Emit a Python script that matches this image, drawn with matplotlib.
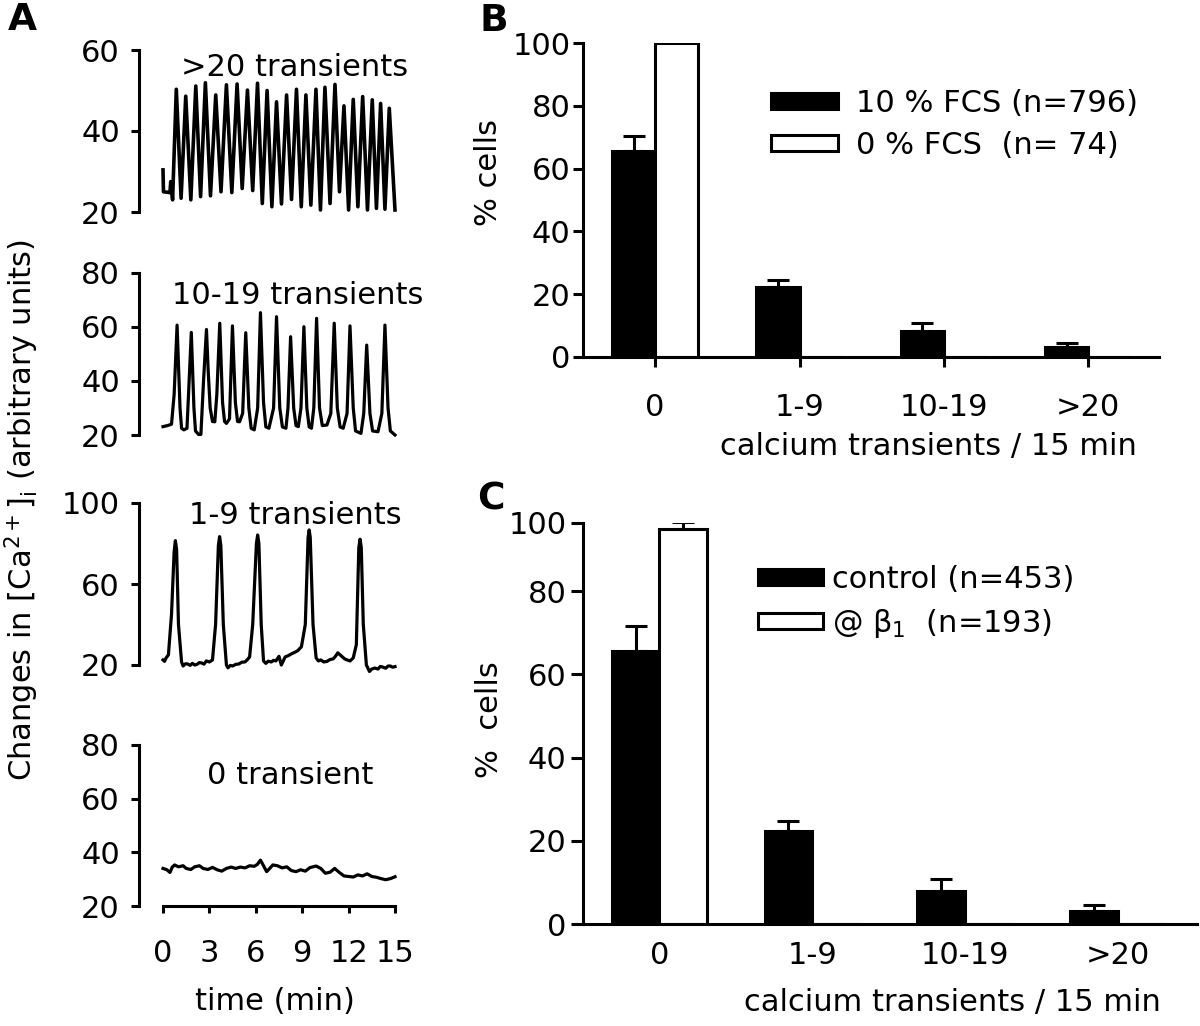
import matplotlib
matplotlib.use("Agg")
import matplotlib.pyplot as plt
import matplotlib.ticker as mticker
from matplotlib.transforms import ScaledTranslation
import numpy as np
from matplotlib.patches import Patch

plt.rcParams['font.family'] = ['DejaVu Sans']
plt.rcParams['mathtext.fontset'] = 'dejavusans'

# ---------------- data ----------------
# Panel A traces: (time in min, [Ca2+]i arbitrary units)
t_gt20 = [0.0, 0.03, 0.45, 0.5, 0.62, 0.86, 1.17, 1.47, 1.80, 2.12, 2.43, 2.74, 3.07, 3.41, 3.75,
          4.10, 4.45, 4.79, 5.12, 5.46, 5.80, 6.11, 6.42, 6.73, 7.04, 7.34, 7.66, 7.99, 8.31,
          8.63, 8.94, 9.24, 9.56, 9.89, 10.18, 10.47, 10.80, 11.12, 11.41, 11.70, 12.00,
          12.30, 12.60, 12.91, 13.22, 13.53, 13.80, 14.07, 14.35, 14.63, 15.0]
v_gt20 = [30.4, 25.0, 24.8, 27.5, 23.0, 50.3, 23.4, 48.6, 23.0, 51.1, 23.8, 51.9, 24.0, 48.9, 25.0,
          51.4, 24.8, 51.6, 25.8, 50.1, 25.3, 51.8, 22.1, 50.0, 21.3, 47.2, 22.0, 48.9, 23.1,
          50.3, 21.3, 48.9, 21.7, 50.3, 20.5, 50.8, 22.1, 51.5, 25.0, 46.2, 20.5,
          47.8, 21.3, 48.5, 20.5, 47.7, 20.9, 46.8, 20.7, 45.6, 20.5]

t_10_19 = [0.0, 0.3, 0.55, 0.72, 0.91, 1.1, 1.2, 1.35, 1.55, 1.65, 1.83, 2.0, 2.1, 2.3, 2.45, 2.62,
           2.81, 2.92, 3.05, 3.2, 3.35, 3.48, 3.67, 3.85, 3.98, 4.1, 4.3, 4.49, 4.68, 4.82, 4.95,
           5.15, 5.35, 5.55, 5.7, 5.9, 6.12, 6.30, 6.5, 6.65, 6.85, 7.15, 7.34, 7.55, 7.72, 7.95,
           8.08, 8.25, 8.45, 8.6, 8.75, 8.92, 9.11, 9.3, 9.45, 9.6, 9.75, 9.93, 10.12, 10.3, 10.6,
           10.85, 11.07, 11.27, 11.45, 11.65, 11.9, 12.09, 12.3, 12.45, 12.8, 12.98, 13.17, 13.38,
           13.55, 13.9, 14.15, 14.35, 14.55, 14.7, 15.0]
v_10_19 = [23.1, 23.5, 24.0, 35.0, 60.7, 30.0, 22.5, 21.9, 22.5, 35.0, 58.0, 30.0, 21.5, 20.2, 20.2, 40.0,
           59.1, 44.0, 30.0, 25.0, 24.9, 35.0, 61.4, 32.0, 25.0, 24.3, 26.0, 60.4, 32.0, 25.0, 24.9,
           28.0, 57.9, 30.0, 22.5, 21.9, 30.0, 65.3, 32.0, 23.0, 22.5, 30.0, 63.8, 30.0, 23.0, 22.5,
           30.0, 56.4, 30.0, 23.5, 23.1, 30.0, 60.1, 30.0, 23.0, 22.5, 30.0, 63.2, 30.0, 23.5, 23.7,
           28.0, 61.4, 30.0, 23.0, 22.5, 28.0, 60.4, 30.0, 21.5, 20.6, 28.0, 53.3, 28.0,
           21.5, 21.2, 28.0, 60.7, 30.0, 21.5, 20.0]

t_1_9 = [0.0, 0.1, 0.2, 0.35, 0.55, 0.72, 0.80, 0.88, 1.0, 1.2, 1.3, 1.45, 1.6, 1.75, 1.9, 2.05, 2.2,
         2.35, 2.5, 2.65, 2.8, 3.0, 3.2, 3.4, 3.58, 3.66, 3.74, 3.9, 4.1, 4.2, 4.35, 4.5, 4.7, 4.9,
         5.1, 5.3, 5.45, 5.6, 5.8, 6.04, 6.12, 6.2, 6.35, 6.5, 6.65, 6.8, 7.0, 7.15, 7.3, 7.5, 7.65,
         7.9, 8.1, 8.3, 8.5, 8.7, 8.95, 9.2, 9.38, 9.45, 9.52, 9.7, 9.9, 10.05, 10.2, 10.4, 10.6,
         10.8, 11.0, 11.15, 11.3, 11.45, 11.6, 11.75, 11.9, 12.1, 12.3, 12.5, 12.66, 12.74, 12.82,
         12.95, 13.15, 13.35, 13.5, 13.7, 13.9, 14.05, 14.2, 14.4, 14.55, 14.7, 14.85, 15.0]
v_1_9 = [22.5, 21.8, 23.5, 25.0, 45.0, 76.0, 81.4, 77.0, 40.0, 21.5, 19.5, 20.6, 20.5, 19.8, 20.8, 20.0,
         20.3, 21.2, 21.0, 20.4, 22.0, 21.5, 22.5, 40.0, 79.0, 83.4, 79.0, 40.0, 20.0, 18.6, 19.8, 19.5,
         20.3, 20.5, 21.4, 21.5, 22.6, 24.0, 40.0, 80.0, 84.2, 80.0, 40.0, 22.0, 20.8, 21.9, 21.5,
         22.3, 22.0, 24.3, 20.0, 24.0, 24.6, 25.5, 26.2, 27.0, 29.0, 40.0, 83.0, 86.7, 83.0, 40.0,
         23.5, 22.0, 22.5, 21.5, 21.8, 22.7, 23.0, 24.3, 26.0, 25.0, 24.0, 23.0, 22.5, 22.0, 23.5,
         30.0, 78.0, 82.1, 78.0, 40.0, 20.0, 16.8, 18.0, 18.5, 18.0, 19.3, 19.0, 18.4, 19.5, 19.5,
         18.9, 19.2]

t_0 = [0.0, 0.25, 0.45, 0.6, 0.75, 1.0, 1.3, 1.5, 1.8, 2.05, 2.35, 2.6, 2.9, 3.2, 3.5, 3.8, 4.1, 4.4,
       4.7, 5.0, 5.3, 5.6, 5.9, 6.1, 6.3, 6.5, 6.7, 6.9, 7.1, 7.4, 7.7, 8.0, 8.3, 8.6, 8.9, 9.2,
       9.5, 9.9, 10.2, 10.5, 10.8, 11.1, 11.4, 11.7, 12.0, 12.3, 12.6, 12.9, 13.2, 13.5, 13.8,
       14.1, 14.4, 14.7, 15.0]
v_0 = [34.0, 33.5, 32.5, 34.5, 35.3, 34.6, 35.0, 34.0, 33.6, 34.6, 35.0, 34.0, 33.6, 34.4, 33.5, 33.0,
       34.0, 34.5, 34.0, 34.5, 34.2, 35.0, 34.8, 35.5, 37.1, 35.0, 32.8, 34.0, 35.3, 35.0, 34.2,
       34.6, 33.2, 32.8, 33.5, 33.0, 34.3, 34.9, 34.0, 32.2, 32.6, 34.0, 32.5, 31.2, 31.0, 30.8,
       31.6, 31.2, 32.0, 31.0, 30.7, 30.2, 29.8, 30.2, 30.9]

trace_titles = [">20 transients", "10-19 transients", "1-9 transients", "0 transient"]
trace_yticks = [[20, 40, 60], [20, 40, 60, 80], [20, 60, 100], [20, 40, 60, 80]]
time_ticks = [0, 3, 6, 9, 12, 15]

# Panels B and C
categories = ["0", "1-9", "10-19", ">20"]
b_fcs10 = [65.5, 22.3, 8.2, 3.2]
b_fcs10_err = [5.0, 2.3, 2.5, 1.3]
b_fcs0 = [100.0, 0.0, 0.0, 0.0]
b_fcs0_err = [0.0, 0.0, 0.0, 0.0]
b_labels = ["10 % FCS (n=796)", "0 % FCS  (n= 74)"]

c_control = [65.7, 22.3, 8.0, 3.2]
c_control_err = [5.9, 2.5, 2.7, 1.4]
c_beta1 = [98.2, 0.0, 0.0, 0.0]
c_beta1_err = [2.2, 0.0, 0.0, 0.0]
c_labels = ["control (n=453)", "@ β$_\\mathregular{1}$  (n=193)"]

pct_ticks = [0, 20, 40, 60, 80, 100]

# ---------------- layout helpers ----------------
W, H = 1200, 1026
FS = 22
LW = 2.2
fig = plt.figure(figsize=(W / 100, H / 100), dpi=100)


def add_ax(x0, x1, ytop, ybot):
    return fig.add_axes([x0 / W, 1 - ybot / H, (x1 - x0) / W, (ybot - ytop) / H])


def ftext(x, y, s, **kw):
    fig.text(x / W, 1 - y / H, s, **kw)


# ---------------- Panel A ----------------
traces = [(t_gt20, v_gt20), (t_10_19, v_10_19), (t_1_9, v_1_9), (t_0, v_0)]
a_rows = [(50, 212), (273, 435), (503, 665), (745, 906)]
title_pos = [(295, 68), (298, 295), (295, 515), (290, 775)]
trace_lw = [2.6, 2.3, 2.3, 2.3]
for i, ((tt, vv), (yt, yb), yt_list) in enumerate(zip(traces, a_rows, trace_yticks)):
    ax = add_ax(163, 395, yt, yb)
    ax.plot(tt, vv, color='black', lw=trace_lw[i], solid_joinstyle='round', clip_on=False)
    ax.set_xlim(0, 15)
    ax.set_ylim(yt_list[0], yt_list[-1])
    ax.set_yticks(yt_list)
    for s in ['top', 'right']:
        ax.spines[s].set_visible(False)
    ax.spines['left'].set_position(('outward', 17))
    ax.spines['left'].set_linewidth(LW)
    ax.tick_params(axis='y', direction='out', length=6, width=LW, labelsize=FS, pad=8)
    if i < 3:
        ax.spines['bottom'].set_visible(False)
        ax.set_xticks([])
    else:
        ax.spines['bottom'].set_linewidth(LW)
        ax.set_xticks(time_ticks)
        ax.tick_params(axis='x', direction='out', length=5, width=LW, labelsize=FS, pad=19)
    ax.patch.set_alpha(0)
    ftext(title_pos[i][0], title_pos[i][1], trace_titles[i], fontsize=FS, ha='center', va='center')

ftext(275, 1001, "time (min)", fontsize=FS, ha='center', va='center')
ftext(22, 510, "Changes in [Ca$^{\\mathregular{2+}}$]$_\\mathregular{i}$ (arbitrary units)", fontsize=FS,
      rotation=90, ha='center', va='center')
ftext(22, 20, "A", fontsize=27, fontweight='bold', ha='center', va='center')


# ---------------- bar panels ----------------
def bar_panel(ax, black, black_err, white, white_err, width, labels, ticklen_x,
              tick_pad_x, leg_xy, handlelength, textpad, label_dx):
    x = np.arange(len(categories))
    ax.bar(x - width / 2, black, width, color='black', edgecolor='black', lw=LW, zorder=2)
    ax.bar(x + width / 2, white, width, color='white', edgecolor='black', lw=LW, zorder=2)
    be = np.array(black_err)
    m = be > 0
    ax.errorbar((x - width / 2)[m], np.array(black)[m], yerr=[np.zeros(m.sum()), be[m]],
                fmt='none', ecolor='black', elinewidth=LW, capsize=8, capthick=LW, zorder=1)
    we = np.array(white_err)
    m = we > 0
    if m.any():
        ax.errorbar((x + width / 2)[m], np.array(white)[m], yerr=[np.zeros(m.sum()), we[m]],
                    fmt='none', ecolor='black', elinewidth=LW, capsize=8, capthick=LW, zorder=1)
    ax.set_ylim(0, 100)
    ax.set_yticks(pct_ticks)
    ax.set_xticks(x)
    ax.set_xticklabels(categories)
    for lbl, dx in zip(ax.get_xticklabels(), label_dx):
        lbl.set_transform(lbl.get_transform() + ScaledTranslation(dx / 100, 0, fig.dpi_scale_trans))
    for s in ['top', 'right']:
        ax.spines[s].set_visible(False)
    for s in ['left', 'bottom']:
        ax.spines[s].set_linewidth(LW)
    ax.tick_params(axis='y', direction='out', length=7, width=LW, labelsize=FS, pad=2)
    ax.tick_params(axis='x', direction='out', length=ticklen_x, width=LW, labelsize=FS, pad=tick_pad_x)
    handles = [Patch(facecolor='black', edgecolor='black', lw=LW),
               Patch(facecolor='white', edgecolor='black', lw=LW)]
    ax.legend(handles, labels, loc='upper left', bbox_to_anchor=(leg_xy[0] / W, 1 - leg_xy[1] / H),
              bbox_transform=fig.transFigure, frameon=False, fontsize=FS, borderpad=0,
              borderaxespad=0, handlelength=handlelength, handleheight=0.45,
              handletextpad=textpad, labelspacing=0.43)


# Panel B
axB = add_ax(583, 1159, 43, 357)
axB.set_xlim(-0.5, 3.49)
bar_panel(axB, b_fcs10, b_fcs10_err, b_fcs0, b_fcs0_err, 0.3, b_labels, 7, 19,
          (771, 89), 2.19, 0.59, [4, 11, 13, 7])
ftext(928, 447, "calcium transients / 15 min", fontsize=FS, ha='center', va='center')
ftext(489, 173, "% cells", fontsize=FS, rotation=90, ha='center', va='center')
ftext(494, 21, "B", fontsize=27, fontweight='bold', ha='center', va='center')


# Panel C (its value axis is drawn compressed above 80, as in the original)
def _fwd(y):
    y = np.asarray(y, dtype=float)
    return np.where(y <= 80, y, 80 + (y - 80) * 0.82)


def _inv(y):
    y = np.asarray(y, dtype=float)
    return np.where(y <= 80, y, 80 + (y - 80) / 0.82)


axC = add_ax(583, 1197, 523, 924)
axC.set_yscale('function', functions=(_fwd, _inv))
axC.set_xlim(-0.5, 3.52)
bar_panel(axC, c_control, c_control_err, c_beta1, c_beta1_err, 0.311, c_labels, 0, 12,
          (758, 565), 2.13, 0.3, [2, 7, -8, -18])
axC.yaxis.set_major_formatter(mticker.FormatStrFormatter('%d'))
axC.yaxis.set_minor_locator(mticker.NullLocator())
axC.tick_params(axis='y', length=9, pad=3)
ftext(952, 1003, "calcium transients / 15 min", fontsize=FS, ha='center', va='center')
ftext(490, 720, "%  cells", fontsize=FS, rotation=90, ha='center', va='center')
ftext(491, 500, "C", fontsize=27, fontweight='bold', ha='center', va='center')

fig.savefig("out.png", dpi=100)
